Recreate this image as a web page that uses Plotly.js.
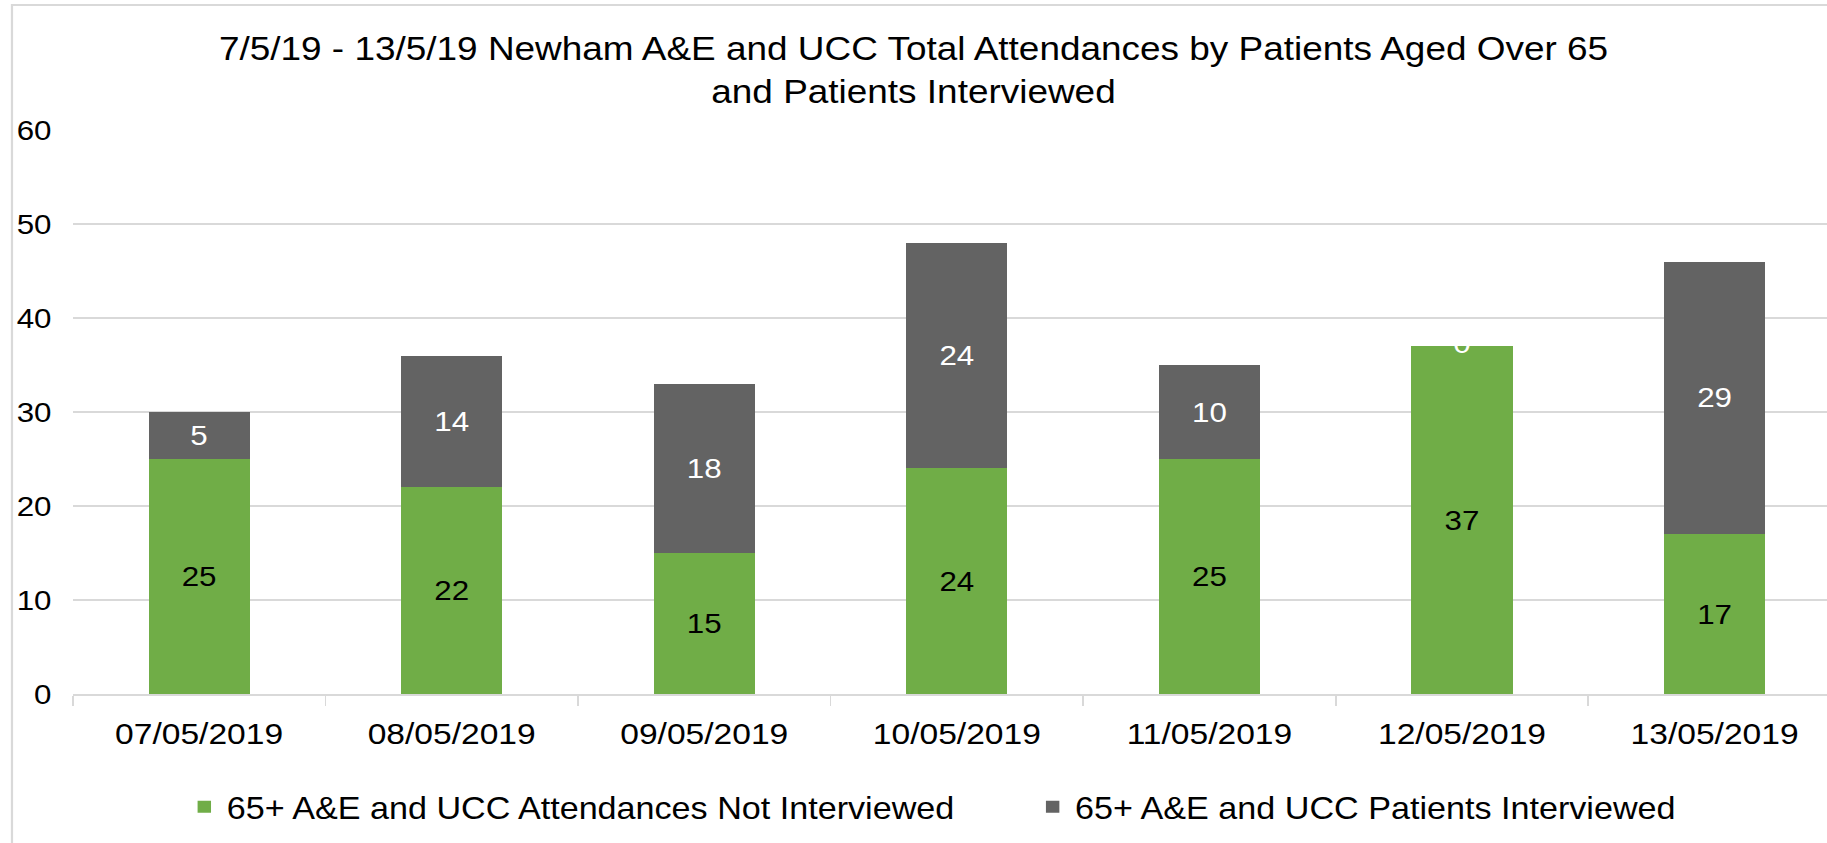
<!DOCTYPE html>
<html>
<head>
<meta charset="utf-8">
<script src="https://cdn.plot.ly/plotly-3.0.1.min.js"></script>
<style>
  html, body { margin: 0; padding: 0; background: #ffffff; overflow: hidden; }
  #wrap { width: 1827px; height: 843px; overflow: hidden; position: relative; }
  #chart { width: 1632px; height: 843px; transform: scaleX(1.119485); transform-origin: 0 0; }
</style>
</head>
<body>
<div id="wrap"><div id="chart"></div></div>
<script>
// ---- data ----
const categories = ["07/05/2019", "08/05/2019", "09/05/2019", "10/05/2019", "11/05/2019", "12/05/2019", "13/05/2019"];
const notInterviewed = [25, 22, 15, 24, 25, 37, 17];
const interviewed = [5, 14, 18, 24, 10, 0, 29];
const seriesNames = ["65+ A&E and UCC Attendances Not Interviewed", "65+ A&E and UCC Patients Interviewed"];
const yTickValues = [0, 10, 20, 30, 40, 50, 60];
const titleText = "7/5/19 - 13/5/19 Newham A&E and UCC Total Attendances by Patients Aged Over 65<br>and Patients Interviewed";

// ---- styles ----
const GREEN = "#70AD47";
const GRAY = "#636363";
const GRID = "#D9D9D9";
const FONT = '"Liberation Sans", Arial, Helvetica, sans-serif';

// zero-valued top segments: Excel still prints their label at the stack top
const zeroCats = [], zeroTops = [], zeroText = [];
categories.forEach((c, i) => {
  if (interviewed[i] === 0) {
    zeroCats.push(c);
    zeroTops.push(notInterviewed[i] + interviewed[i]);
    zeroText.push(String(interviewed[i]));
  }
});

const traces = [
  {
    type: "bar",
    name: seriesNames[0],
    x: categories,
    y: notInterviewed,
    marker: { color: GREEN },
    text: notInterviewed.map(String),
    textposition: "inside",
    insidetextanchor: "middle",
    textangle: 0,
    constraintext: "none",
    textfont: { family: FONT, size: 28, color: "#000000" },
    legendwidth: 712.8,
    hoverinfo: "skip"
  },
  {
    type: "bar",
    name: seriesNames[1],
    x: categories,
    y: interviewed,
    marker: { color: GRAY },
    text: interviewed.map(v => (v === 0 ? "" : String(v))),
    textposition: "inside",
    insidetextanchor: "middle",
    textangle: 0,
    constraintext: "none",
    textfont: { family: FONT, size: 28, color: "#FFFFFF" },
    hoverinfo: "skip"
  },
  {
    type: "scatter",
    mode: "text",
    x: zeroCats,
    y: zeroTops,
    text: zeroText,
    textposition: "middle center",
    textfont: { family: FONT, size: 28, color: "#FFFFFF" },
    showlegend: false,
    hoverinfo: "skip",
    cliponaxis: false
  }
];

const layout = {
  width: 1632,
  height: 843,
  margin: { l: 65, r: 0, t: 130, b: 149, pad: 0, autoexpand: false },
  paper_bgcolor: "#FFFFFF",
  plot_bgcolor: "#FFFFFF",
  font: { family: FONT, color: "#000000" },
  barmode: "stack",
  bargap: 0.6,
  title: {
    text: titleText,
    font: { family: FONT, size: 33, color: "#000000" },
    x: 0.5, xref: "container", xanchor: "center",
    y: 1 - 60 / 843, yref: "container", yanchor: "top"
  },
  xaxis: {
    type: "category",
    range: [-0.5, 6.445],
    tickson: "boundaries",
    ticks: "outside",
    ticklen: 10,
    tickwidth: 1.5,
    tickcolor: GRID,
    showline: true,
    linecolor: GRID,
    linewidth: 2,
    showgrid: false,
    zeroline: false,
    tickfont: { family: FONT, size: 30, color: "#000000" },
    ticklabelstandoff: 12,
    fixedrange: true
  },
  yaxis: {
    range: [0, 60],
    tickmode: "array",
    tickvals: yTickValues,
    ticktext: yTickValues.map(String),
    showgrid: true,
    gridcolor: GRID,
    gridwidth: 1.5,
    zeroline: false,
    showline: false,
    ticks: "",
    tickfont: { family: FONT, size: 28, color: "#000000" },
    ticklabelstandoff: 18,
    fixedrange: true
  },
  showlegend: true,
  legend: {
    orientation: "h",
    x: (162.5 - 65) / 1567,
    xanchor: "left",
    y: (694 - 807) / 564,
    yanchor: "middle",
    font: { family: FONT, size: 30.5, color: "#000000" },
    traceorder: "normal",
    bgcolor: "rgba(0,0,0,0)"
  },
  shapes: [
    {
      type: "rect",
      xref: "paper", yref: "paper",
      x0: (10.7 - 65) / 1567, x1: 1.05,
      y0: -0.5, y1: (694 - 5) / 564,
      line: { color: GRID, width: 2 },
      fillcolor: "rgba(0,0,0,0)",
      layer: "below"
    }
  ]
};

Plotly.newPlot("chart", traces, layout, { displayModeBar: false, staticPlot: true, responsive: false });
</script>
</body>
</html>
